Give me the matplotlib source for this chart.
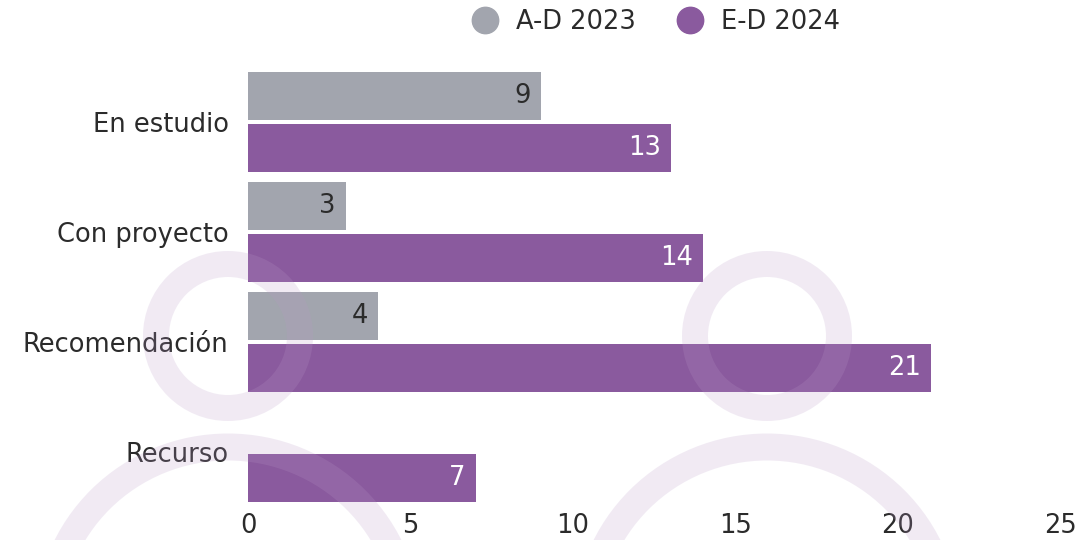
import matplotlib.pyplot as plt
import numpy as np
from matplotlib.patches import Ellipse, Circle
from matplotlib.lines import Line2D

categories = ["En estudio", "Con proyecto", "Recomendación", "Recurso"]
ad_2023 = [9, 3, 4, None]
ed_2024 = [13, 14, 21, 7]
xticks = [0, 5, 10, 15, 20, 25]

gray = "#a2a5ae"
purple = "#8a5a9e"
txt = "#2b2b2b"

plt.rcParams["font.family"] = ["DejaVu Sans"]
fs = 18.5

fig = plt.figure(figsize=(10.81, 5.4), dpi=100)
ax = fig.add_axes([248 / 1081, 1 - 506 / 540, 812.5 / 1081, 438 / 540])

y = np.arange(len(categories))
h = 0.436
off = 0.236

for i, v in enumerate(ad_2023):
    if v is None:
        continue
    ax.barh(y[i] - off, v, height=h, color=gray, zorder=2)
    ax.text(v - 0.3, y[i] - off, str(v), ha="right", va="center",
            fontsize=fs, color=txt, zorder=4)

for i, v in enumerate(ed_2024):
    ax.barh(y[i] + off, v, height=h, color=purple, zorder=2)
    ax.text(v - 0.3, y[i] + off, str(v), ha="right", va="center",
            fontsize=fs, color="white", zorder=4)

ax.set_xlim(0, 25)
ax.set_ylim(3.49, -0.49)
ax.set_xticks(xticks)
ax.set_xticklabels([str(t) for t in xticks], fontsize=fs, color=txt)
ax.set_yticks(y)
ax.set_yticklabels(categories, fontsize=fs, color=txt)
ax.tick_params(axis="both", length=0)
ax.tick_params(axis="x", pad=5)
ax.tick_params(axis="y", pad=14)
for s in ax.spines.values():
    s.set_visible(False)
ax.patch.set_alpha(0)

# faint watermark (two person icons) drawn over everything
bg = fig.add_axes([0, 0, 1, 1], zorder=5)
bg.set_xlim(0, 1081)
bg.set_ylim(540, 0)
bg.axis("off")
ring = (0.73, 0.60, 0.78)
for cx in [228, 767]:
    bg.add_patch(Circle((cx, 336), 72, fill=False, lw=26 * 0.72,
                        ec=ring, alpha=0.2))
    bg.add_patch(Ellipse((cx, 625), 2 * 180, 2 * 178, fill=False,
                         lw=27 * 0.72, ec=ring, alpha=0.2))

handles = [Line2D([], [], marker="o", ls="", ms=19, color=gray),
           Line2D([], [], marker="o", ls="", ms=19, color=purple)]
fig.legend(handles, ["A-D 2023", "E-D 2024"], loc="center",
           bbox_to_anchor=(0.601, 1 - 22 / 540), ncol=2, frameon=False,
           fontsize=fs, handletextpad=0.2, columnspacing=1.1,
           labelcolor=txt)

fig.savefig("out.png", dpi=100)
